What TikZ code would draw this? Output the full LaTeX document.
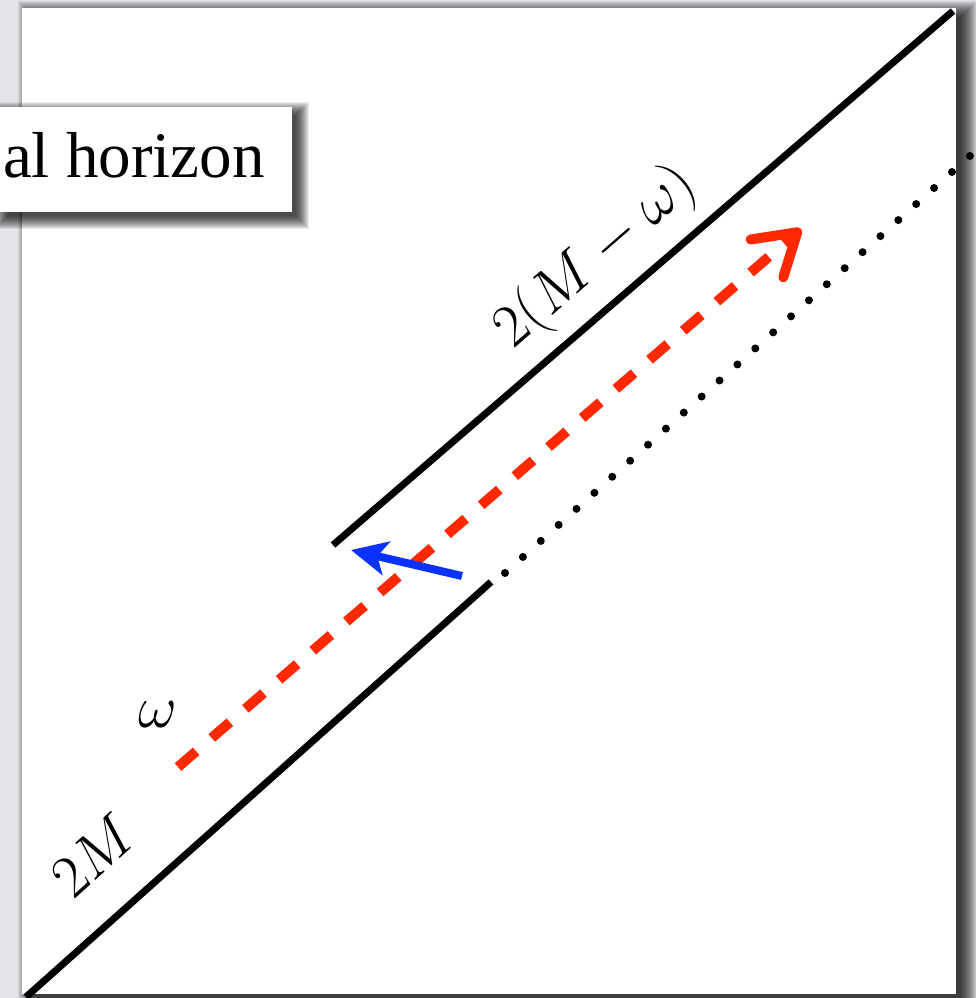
\RequirePackage{fix-cm}
\documentclass[tikz,border=0pt]{standalone}
\usepackage{fontspec}
\newfontfamily\boxfont{Liberation Serif}
\usetikzlibrary{arrows.meta}
\definecolor{bg}{RGB}{226,228,231}
\definecolor{redarrow}{RGB}{255,40,0}
\definecolor{bluearrow}{RGB}{10,50,255}
\begin{document}
\begin{tikzpicture}[x=1pt,y=-1pt,
  mathlabel/.style={inner sep=0pt, font=\fontsize{60}{60}\selectfont},
  horizonline/.style={line width=7pt, line cap=butt},
  dotline/.style={line width=8pt, line cap=round, dash pattern=on 0pt off 24.02pt},
  shadowlayer/.style={fill=black, opacity=0.07}]
\useasboundingbox (0,0) rectangle (976,998);
\clip (0,0) rectangle (976,998);
\fill[bg] (0,0) rectangle (976,998);
% panel shadow and panel
\foreach \k in {0,...,16} \fill[shadowlayer] (18+\k,1+\k) rectangle (977-\k,1015-\k);
\fill[white] (22,8) rectangle (956,994);
% coordinates
\coordinate (upA) at (333,545);
\coordinate (upB) at (953,11);
\coordinate (loA) at (26,997);
\coordinate (loB) at (491,582);
\coordinate (dotA) at (505,573);
\coordinate (dotB) at (972,154);
\coordinate (rA) at (178,767);
\coordinate (rB) at (801,229);
\coordinate (bA) at (462,576);
\coordinate (bB) at (351,550);
% horizon lines
\draw[horizonline] (upA) -- (upB);
\draw[horizonline] (loA) -- (loB);
\draw[dotline] (dotA) -- (dotB);
% red dashed arrow
\draw[redarrow, line width=10pt, dash pattern=on 24pt off 20.5pt,
  -{Straight Barb[round,length=40pt,width=50pt]}] (rA) -- (rB);
% blue arrow
\draw[bluearrow, line width=8pt, -{Stealth[length=36pt,width=34pt,inset=9pt]}] (bA) -- (bB);
% labels
\node[mathlabel, rotate=41] (lblA) at (596.5,257.5) {$2(M-\omega)$};
\node[mathlabel, rotate=42] (lblB) at (93.5,855) {$2M$};
\node[mathlabel] (lblW) at (158,715) {$\omega$};
% label box
\foreach \k in {0,...,13} \fill[black,opacity=0.08] (-5+\k,102+\k) rectangle (309-\k,229-\k);
\node[fill=white, inner sep=0pt, minimum width=297pt, minimum height=105pt, anchor=north west] (box) at (-5,107) {};
\node[inner sep=0pt, anchor=base east, font=\boxfont\fontsize{65}{65}\selectfont] (boxtext) at (265,177) {al horizon};
\end{tikzpicture}
\end{document}
